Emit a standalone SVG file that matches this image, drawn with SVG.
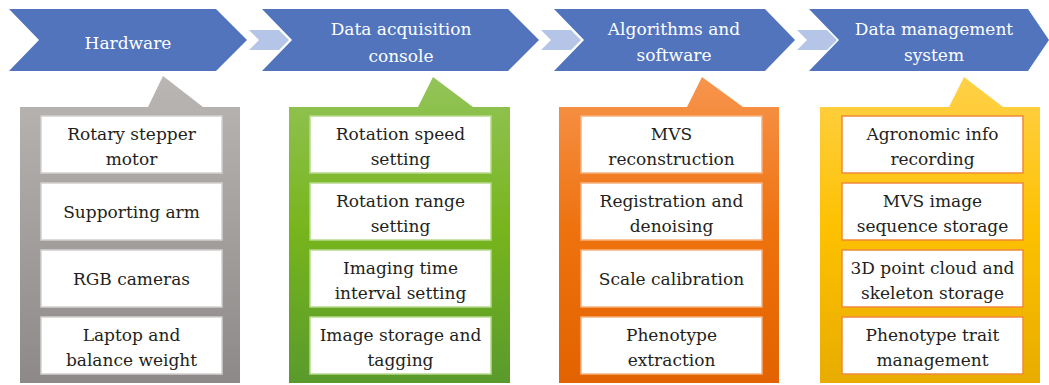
<svg xmlns="http://www.w3.org/2000/svg" width="1049" height="385" viewBox="0 0 1049 385">
  <defs>
    <linearGradient id="gGray" gradientUnits="userSpaceOnUse" x1="0" y1="76" x2="0" y2="383">
      <stop offset="0" stop-color="#b9b6b4"/>
      <stop offset="1" stop-color="#8c8988"/>
    </linearGradient>
    <linearGradient id="gGreen" gradientUnits="userSpaceOnUse" x1="0" y1="76" x2="0" y2="383">
      <stop offset="0" stop-color="#93c45a"/>
      <stop offset="0.5" stop-color="#77b51c"/>
      <stop offset="1" stop-color="#5a9a2c"/>
    </linearGradient>
    <linearGradient id="gOrange" gradientUnits="userSpaceOnUse" x1="0" y1="76" x2="0" y2="383">
      <stop offset="0" stop-color="#f7954e"/>
      <stop offset="0.5" stop-color="#ee720e"/>
      <stop offset="1" stop-color="#e26300"/>
    </linearGradient>
    <linearGradient id="gYellow" gradientUnits="userSpaceOnUse" x1="0" y1="76" x2="0" y2="383">
      <stop offset="0" stop-color="#ffd14a"/>
      <stop offset="0.5" stop-color="#fdc100"/>
      <stop offset="1" stop-color="#e8ac00"/>
    </linearGradient>
  </defs>
  <style>
    .chev { fill: #5174bc; }
    .link { fill: #b5c5e8; }
    text { font-family: "DejaVu Serif", "Liberation Serif", serif; text-anchor: middle; }
    .head { font-size: 17px; fill: #ffffff; }
    .item { font-size: 17px; fill: #231f20; }
    .box { fill: #ffffff; stroke-width: 1.5; }
    .gray .box { stroke: #d3d0cf; }
    .green .box { stroke: #b6d98c; }
    .orange .box { stroke: #f8b07c; }
    .yellow .box { stroke: #f0893a; }
  </style>

  <!-- small arrows linking the stage chevrons -->
  <g id="connectors">
    <polygon class="link" points="249,30 279,30 289,40 279,50 249,50 259,40"/>
    <polygon class="link" points="541,30 571,30 581,40 571,50 541,50 551,40"/>
    <polygon class="link" points="797,30 827,30 837,40 827,50 797,50 807,40"/>
  </g>

  <!-- stage chevrons -->
  <g id="stage-hardware">
    <polygon class="chev" points="9,9 216,9 247,40 216,71 9,71 39,40"/>
    <text class="head" x="128" y="49">Hardware</text>
  </g>
  <g id="stage-console">
    <polygon class="chev" points="262,9 508,9 539,40 508,71 262,71 292,40"/>
    <text class="head" x="401" y="35">Data acquisition</text>
    <text class="head" x="401" y="62">console</text>
  </g>
  <g id="stage-algorithms">
    <polygon class="chev" points="554,9 765,9 795,40 765,71 554,71 584,40"/>
    <text class="head" x="674" y="35">Algorithms and</text>
    <text class="head" x="674" y="61">software</text>
  </g>
  <g id="stage-management">
    <polygon class="chev" points="809,9 1028,9 1049,40 1028,71 809,71 839,40"/>
    <text class="head" x="934" y="35">Data management</text>
    <text class="head" x="934" y="61">system</text>
  </g>

  <!-- Hardware panel -->
  <g id="panel-hardware" class="gray">
    <path d="M20,107 H148 L163,76 L203,107 H240 V383 H20 Z" fill="url(#gGray)"/>
    <rect class="box" x="41" y="116" width="181" height="57"/>
    <rect class="box" x="41" y="183" width="181" height="57"/>
    <rect class="box" x="41" y="250" width="181" height="57"/>
    <rect class="box" x="41" y="317" width="181" height="57"/>
    <text class="item" x="131.5" y="140">Rotary stepper</text>
    <text class="item" x="131.5" y="165">motor</text>
    <text class="item" x="131.5" y="218">Supporting arm</text>
    <text class="item" x="131.5" y="285">RGB cameras</text>
    <text class="item" x="131.5" y="341">Laptop and</text>
    <text class="item" x="131.5" y="366">balance weight</text>
  </g>

  <!-- Data acquisition console panel -->
  <g id="panel-console" class="green">
    <path d="M289,107 H418 L433,77 L473,107 H510 V383 H289 Z" fill="url(#gGreen)"/>
    <rect class="box" x="310" y="116" width="181" height="57"/>
    <rect class="box" x="310" y="183" width="181" height="57"/>
    <rect class="box" x="310" y="250" width="181" height="57"/>
    <rect class="box" x="310" y="317" width="181" height="57"/>
    <text class="item" x="400.5" y="140">Rotation speed</text>
    <text class="item" x="400.5" y="165">setting</text>
    <text class="item" x="400.5" y="207">Rotation range</text>
    <text class="item" x="400.5" y="232">setting</text>
    <text class="item" x="400.5" y="274">Imaging time</text>
    <text class="item" x="400.5" y="299">interval setting</text>
    <text class="item" x="400.5" y="341">Image storage and</text>
    <text class="item" x="400.5" y="366">tagging</text>
  </g>

  <!-- Algorithms and software panel -->
  <g id="panel-algorithms" class="orange">
    <path d="M559,107 H687 L702,77 L743,107 H779 V383 H559 Z" fill="url(#gOrange)"/>
    <rect class="box" x="581" y="116" width="181" height="57"/>
    <rect class="box" x="581" y="183" width="181" height="57"/>
    <rect class="box" x="581" y="250" width="181" height="57"/>
    <rect class="box" x="581" y="317" width="181" height="57"/>
    <text class="item" x="671.5" y="140">MVS</text>
    <text class="item" x="671.5" y="165">reconstruction</text>
    <text class="item" x="671.5" y="207">Registration and</text>
    <text class="item" x="671.5" y="232">denoising</text>
    <text class="item" x="671.5" y="285">Scale calibration</text>
    <text class="item" x="671.5" y="341">Phenotype</text>
    <text class="item" x="671.5" y="366">extraction</text>
  </g>

  <!-- Data management system panel -->
  <g id="panel-management" class="yellow">
    <path d="M820,107 H949 L964,77 L1003,107 H1040 V383 H820 Z" fill="url(#gYellow)"/>
    <rect class="box" x="842" y="116" width="181" height="57"/>
    <rect class="box" x="842" y="183" width="181" height="57"/>
    <rect class="box" x="842" y="250" width="181" height="57"/>
    <rect class="box" x="842" y="317" width="181" height="57"/>
    <text class="item" x="932.5" y="140">Agronomic info</text>
    <text class="item" x="932.5" y="165">recording</text>
    <text class="item" x="932.5" y="207">MVS image</text>
    <text class="item" x="932.5" y="232">sequence storage</text>
    <text class="item" x="932.5" y="274">3D point cloud and</text>
    <text class="item" x="932.5" y="299">skeleton storage</text>
    <text class="item" x="932.5" y="341">Phenotype trait</text>
    <text class="item" x="932.5" y="366">management</text>
  </g>
</svg>
